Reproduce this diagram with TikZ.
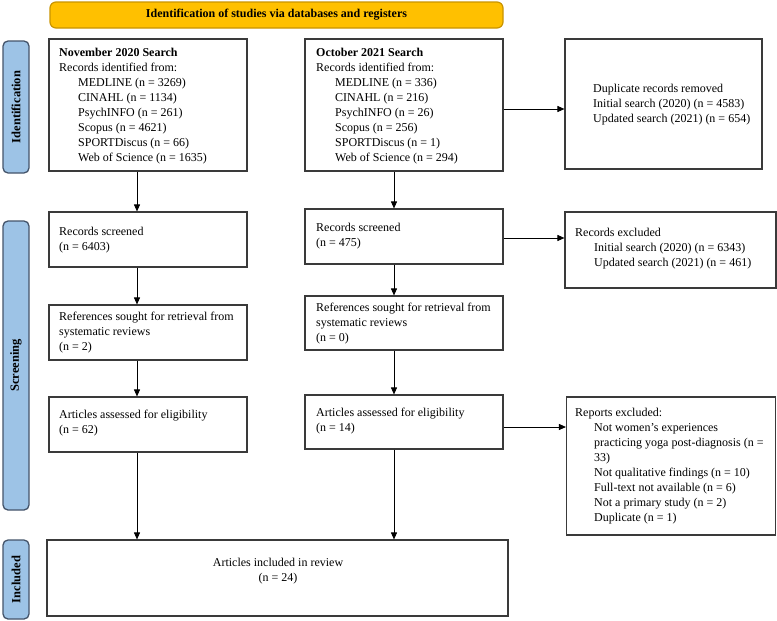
\documentclass[tikz,border=0pt]{standalone}
\usepackage{fontspec}
\setmainfont{Liberation Serif}
\usetikzlibrary{arrows.meta}
\definecolor{boxgray}{HTML}{3A3A3A}
\definecolor{bannerfill}{HTML}{FFC000}
\definecolor{bannerdraw}{HTML}{C99400}
\definecolor{sidefill}{HTML}{9DC3E6}
\definecolor{sidedraw}{HTML}{44546A}
\newcommand{\ind}{\hspace*{19pt}}
\begin{document}
\begin{tikzpicture}[x=1pt,y=-1pt,
  box/.style={draw=boxgray, line width=1.1pt, inner sep=0pt, fill=white},
  txt/.style={inner sep=0pt, align=left, font=\fontsize{12}{15}\selectfont, anchor=north west},
  side/.style={draw=sidedraw, fill=sidefill, line width=1.3pt, rounded corners=5pt, inner sep=0pt, rotate=90, font=\fontsize{12.5}{14}\selectfont\bfseries},
  arr/.style={line width=0.9pt, -{Triangle[length=7pt,width=6pt]}}]
\useasboundingbox (0,0) rectangle (777,621);

% banner
\node[draw=bannerdraw, fill=bannerfill, line width=1.2pt, rounded corners=6pt, minimum width=453pt, minimum height=26pt, inner sep=0pt, font=\fontsize{12}{14}\selectfont\bfseries] (banner) at (276.5,15) {Identification of studies via databases and registers};

% side labels
\node[side, minimum width=132pt, minimum height=26pt] (sidA) at (16,107) {Identification};
\node[side, minimum width=289pt, minimum height=26pt] (sidB) at (16,365.5) {Screening};
\node[side, minimum width=79pt, minimum height=26pt] (sidC) at (16,579.5) {Included};

% boxes
\node[box, minimum width=198pt, minimum height=132pt] (nov) at (148,105) {};
\node[box, minimum width=198pt, minimum height=132pt] (oct) at (404,105) {};
\node[box, minimum width=197pt, minimum height=130pt] (dup) at (663.5,104) {};
\node[box, minimum width=198pt, minimum height=55pt] (scrL) at (148,239.5) {};
\node[box, minimum width=198pt, minimum height=55pt] (scrR) at (404,236.5) {};
\node[box, minimum width=211pt, minimum height=76pt] (excl) at (670.5,250) {};
\node[box, minimum width=198pt, minimum height=55pt] (refL) at (148,332.5) {};
\node[box, minimum width=198pt, minimum height=54pt] (refR) at (404,323) {};
\node[box, minimum width=198pt, minimum height=55pt] (artL) at (148,424.5) {};
\node[box, minimum width=198pt, minimum height=54pt] (artR) at (404,422) {};
\node[box, minimum width=209pt, minimum height=138pt] (rep) at (671,466) {};
\node[box, minimum width=461pt, minimum height=76pt] (inc) at (277.5,578) {};

% texts
\node[txt] (novt) at (59,48) {\textbf{November 2020 Search}\\Records identified from:\\\ind MEDLINE (n = 3269)\\\ind CINAHL (n = 1134)\\\ind PsychINFO (n = 261)\\\ind Scopus (n = 4621)\\\ind SPORTDiscus (n = 66)\\\ind Web of Science (n = 1635)};
\node[txt] (octt) at (316,48) {\textbf{October 2021 Search}\\Records identified from:\\\ind MEDLINE (n = 336)\\\ind CINAHL (n = 216)\\\ind PsychINFO (n = 26)\\\ind Scopus (n = 256)\\\ind SPORTDiscus (n = 1)\\\ind Web of Science (n = 294)};
\node[txt] (dupt) at (593,84) {Duplicate records removed\\Initial search (2020) (n = 4583)\\Updated search (2021) (n = 654)};
\node[txt] (scrLt) at (59,227) {Records screened\\(n = 6403)};
\node[txt] (scrRt) at (316,223) {Records screened\\(n = 475)};
\node[txt] (exclt) at (575,228) {Records excluded\\\ind Initial search (2020) (n = 6343)\\\ind Updated search (2021) (n = 461)};
\node[txt] (refLt) at (59,312) {References sought for retrieval from\\systematic reviews\\(n = 2)};
\node[txt] (refRt) at (316,303) {References sought for retrieval from\\systematic reviews\\(n = 0)};
\node[txt] (artLt) at (59,410) {Articles assessed for eligibility\\(n = 62)};
\node[txt] (artRt) at (316,408) {Articles assessed for eligibility\\(n = 14)};
\node[txt] (rept) at (575,408) {Reports excluded:\\\ind Not women’s experiences\\\ind practicing yoga post-diagnosis (n =\\\ind 33)\\\ind Not qualitative findings (n = 10)\\\ind Full-text not available (n = 6)\\\ind Not a primary study (n = 2)\\\ind Duplicate (n = 1)};
\node[txt, align=center, anchor=north] (inct) at (278,558) {Articles included in review\\(n = 24)};

% connector guides
\coordinate (colL) at (137,0);
\coordinate (colR) at (394,0);
\coordinate (rowA) at (0,109);
\coordinate (rowB) at (0,238);
\coordinate (rowC) at (0,427);

% vertical arrows
\draw[arr] (nov.south -| colL) -- (scrL.north -| colL);
\draw[arr] (scrL.south -| colL) -- (refL.north -| colL);
\draw[arr] (refL.south -| colL) -- (artL.north -| colL);
\draw[arr] (artL.south -| colL) -- (inc.north -| colL);
\draw[arr] (oct.south -| colR) -- (scrR.north -| colR);
\draw[arr] (scrR.south -| colR) -- (refR.north -| colR);
\draw[arr] (refR.south -| colR) -- (artR.north -| colR);
\draw[arr] (artR.south -| colR) -- (inc.north -| colR);

% horizontal arrows
\draw[arr] (oct.east |- rowA) -- (dup.west |- rowA);
\draw[arr] (scrR.east |- rowB) -- (excl.west |- rowB);
\draw[arr] (artR.east |- rowC) -- (rep.west |- rowC);
\end{tikzpicture}
\end{document}
